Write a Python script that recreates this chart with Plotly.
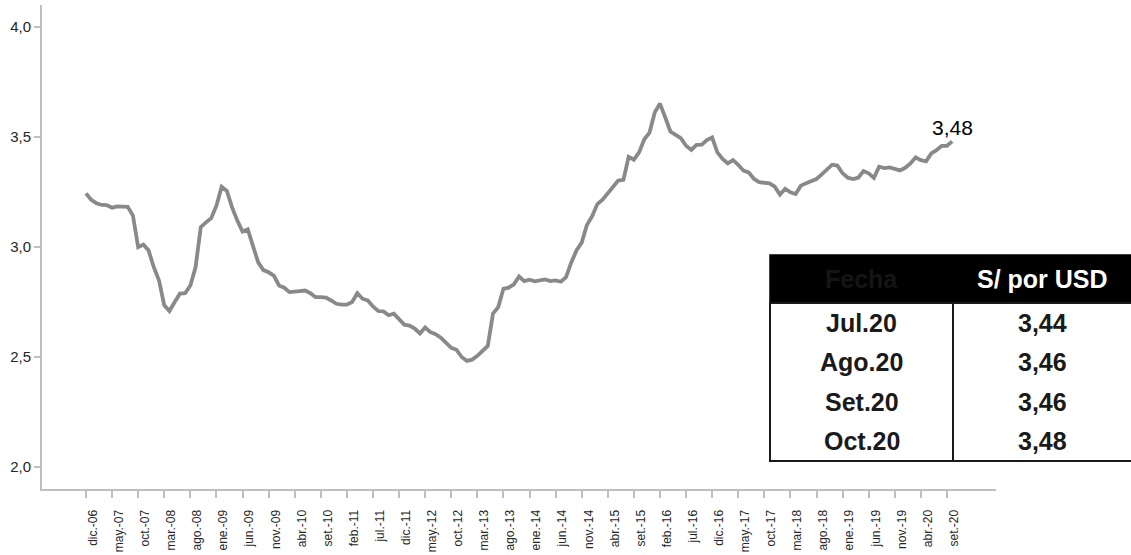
import plotly.graph_objects as go

# ---------------- data ----------------
meses = ["ene.", "feb.", "mar.", "abr.", "may.", "jun.", "jul.", "ago.", "set.", "oct.", "nov.", "dic."]
fechas = ["dic.-06"] + [f"{m}-{a:02d}" for a in range(7, 21) for m in meses][:166]

tipo_cambio = [
    3.244, 3.214, 3.199, 3.191, 3.190, 3.179, 3.185, 3.185, 3.183, 3.143,
    2.999, 3.011, 2.984, 2.908, 2.848, 2.735, 2.709, 2.750, 2.788, 2.790,
    2.825, 2.908, 3.090, 3.112, 3.131, 3.188, 3.274, 3.255, 3.180, 3.120,
    3.070, 3.080, 3.010, 2.930, 2.895, 2.885, 2.870, 2.825, 2.815, 2.795,
    2.797, 2.800, 2.802, 2.790, 2.772, 2.772, 2.770, 2.757, 2.742, 2.738,
    2.738, 2.750, 2.790, 2.765, 2.757, 2.730, 2.709, 2.707, 2.690, 2.697,
    2.673, 2.647, 2.643, 2.629, 2.607, 2.634, 2.613, 2.604, 2.588, 2.562,
    2.542, 2.533, 2.500, 2.482, 2.488, 2.505, 2.528, 2.550, 2.697, 2.727,
    2.810, 2.815, 2.830, 2.866, 2.845, 2.851, 2.844, 2.848, 2.853, 2.845,
    2.848, 2.842, 2.863, 2.930, 2.984, 3.020, 3.100, 3.140, 3.195, 3.215,
    3.245, 3.271, 3.302, 3.305, 3.410, 3.397, 3.430, 3.490, 3.520, 3.611,
    3.652, 3.590, 3.525, 3.510, 3.495, 3.460, 3.441, 3.464, 3.465, 3.486,
    3.498, 3.430, 3.400, 3.380, 3.395, 3.374, 3.347, 3.339, 3.310, 3.295,
    3.293, 3.289, 3.274, 3.238, 3.265, 3.249, 3.241, 3.279, 3.290, 3.300,
    3.309, 3.330, 3.355, 3.374, 3.370, 3.335, 3.315, 3.309, 3.315, 3.345,
    3.335, 3.314, 3.365, 3.359, 3.362, 3.355, 3.348, 3.360, 3.380, 3.407,
    3.395, 3.389, 3.425, 3.440, 3.460, 3.460, 3.480,
]

etiquetas_x = [
    "dic.-06", "may.-07", "oct.-07", "mar.-08", "ago.-08", "ene.-09", "jun.-09",
    "nov.-09", "abr.-10", "set.-10", "feb.-11", "jul.-11", "dic.-11", "may.-12",
    "oct.-12", "mar.-13", "ago.-13", "ene.-14", "jun.-14", "nov.-14", "abr.-15",
    "set.-15", "feb.-16", "jul.-16", "dic.-16", "may.-17", "oct.-17", "mar.-18",
    "ago.-18", "ene.-19", "jun.-19", "nov.-19", "abr.-20", "set.-20",
]
ticks_y = [2.0, 2.5, 3.0, 3.5, 4.0]

tabla_fechas = ["Jul.20", "Ago.20", "Set.20", "Oct.20"]
tabla_valores = [3.44, 3.46, 3.46, 3.48]
tabla_encabezado = ["Fecha", "S/ por USD"]

# ---------------- layout geometry (pixels) ----------------
W, H = 1131, 555
L, R, T, B = 42, 996, 5, 489
PW, PH = R - L, B - T
X_RANGE = [-8.43, 174.4]
LABEL_SHIFT = 1.34  # tick labels sit slightly right of their tick marks


def fx(px):
    return (px - L) / PW


def fy(py):
    return (B - py) / PH


FONT = "Liberation Sans, Arial, sans-serif"
AXIS_COL = "#bfbfbf"
idx = list(range(len(fechas)))
tick_idx = [fechas.index(e) for e in etiquetas_x]

fig = go.Figure()
fig.add_trace(go.Scatter(
    x=idx, y=tipo_cambio, mode="lines",
    line=dict(color="#898989", width=3.8),
    customdata=fechas, hovertemplate="%{customdata}: %{y:.2f}<extra></extra>",
    showlegend=False,
))
# invisible companion trace carrying the label axis
fig.add_trace(go.Scatter(
    x=idx, y=tipo_cambio, xaxis="x2", mode="lines",
    line=dict(width=0, color="rgba(0,0,0,0)"), hoverinfo="skip", showlegend=False,
))

fmt = lambda v: f"{v:.2f}".replace(".", ",")

fig.add_annotation(
    x=idx[-1], y=tipo_cambio[-1], text=fmt(tipo_cambio[-1]),
    showarrow=False, yanchor="middle", xanchor="center", yshift=14,
    font=dict(family=FONT, size=21, color="#000000"),
)

# ---------------- table overlay ----------------
tx0, tx1, tmid = 770, 1134, 953
th0, th1, tb1 = 255, 303, 461
shapes = [
    dict(type="rect", xref="paper", yref="paper", x0=fx(tx0), x1=fx(tx1), y0=fy(th1), y1=fy(th0),
         fillcolor="#000000", line=dict(color="#000000", width=1.5), layer="above"),
    dict(type="rect", xref="paper", yref="paper", x0=fx(tx0), x1=fx(tx1), y0=fy(tb1), y1=fy(th1),
         fillcolor="#ffffff", line=dict(color="#1a1a1a", width=2), layer="above"),
    dict(type="line", xref="paper", yref="paper", x0=fx(tmid), x1=fx(tmid), y0=fy(tb1), y1=fy(th1),
         line=dict(color="#1a1a1a", width=2), layer="above"),
]
c1 = (tx0 + tmid) / 2
c2 = (tmid + 1131) / 2
hy = (th0 + th1) / 2
TS = 25
fig.add_annotation(xref="paper", yref="paper", x=fx(c1), y=fy(hy), text="<b>" + tabla_encabezado[0] + "</b>",
                   showarrow=False, xanchor="center", yanchor="middle",
                   font=dict(family=FONT, size=TS, color="#151515"))
fig.add_annotation(xref="paper", yref="paper", x=fx(c2), y=fy(hy), text="<b>" + tabla_encabezado[1] + "</b>",
                   showarrow=False, xanchor="center", yanchor="middle",
                   font=dict(family=FONT, size=TS, color="#ffffff"))
rh = (tb1 - th1) / len(tabla_fechas)
for k, (f, v) in enumerate(zip(tabla_fechas, tabla_valores)):
    cy = th1 + rh * (k + 0.5)
    fig.add_annotation(xref="paper", yref="paper", x=fx(c1), y=fy(cy), text="<b>" + f + "</b>",
                       showarrow=False, xanchor="center", yanchor="middle",
                       font=dict(family=FONT, size=TS, color="#1a1a1a"))
    fig.add_annotation(xref="paper", yref="paper", x=fx(c2), y=fy(cy), text="<b>" + fmt(v) + "</b>",
                       showarrow=False, xanchor="center", yanchor="middle",
                       font=dict(family=FONT, size=TS, color="#1a1a1a"))

fig.update_layout(
    width=W, height=H,
    margin=dict(l=L, r=W - R, t=T, b=H - B, pad=0, autoexpand=False),
    paper_bgcolor="#ffffff", plot_bgcolor="#ffffff",
    separators=",.",
    font=dict(family=FONT, size=13, color="#262626"),
    shapes=shapes,
    showlegend=False,
    xaxis=dict(
        range=X_RANGE, tickmode="array", tickvals=tick_idx, showticklabels=False,
        showline=True, linecolor=AXIS_COL, linewidth=2,
        ticks="outside", ticklen=7, tickcolor=AXIS_COL, tickwidth=1.5,
        showgrid=False, zeroline=False,
    ),
    xaxis2=dict(
        overlaying="x", anchor="y", side="bottom",
        range=[X_RANGE[0] - LABEL_SHIFT, X_RANGE[1] - LABEL_SHIFT],
        tickmode="array", tickvals=tick_idx, ticktext=etiquetas_x,
        tickangle=-90, tickfont=dict(family=FONT, size=12, color="#262626"),
        ticks="outside", ticklen=7, tickcolor="rgba(0,0,0,0)",
        showline=False, showgrid=False, zeroline=False, ticklabelstandoff=8,
    ),
    yaxis=dict(
        range=[1.9, 4.1], tickmode="array", tickvals=ticks_y, tickformat=".1f",
        tickfont=dict(family=FONT, size=15, color="#262626"),
        showline=True, linecolor=AXIS_COL, linewidth=2,
        ticks="outside", ticklen=6, tickcolor=AXIS_COL, tickwidth=1.5,
        showgrid=False, zeroline=False,
    ),
)

fig.write_html(
    "out.html",
    config={"displayModeBar": False},
    post_script="document.body.style.margin='0px';document.body.style.overflow='hidden';",
)
